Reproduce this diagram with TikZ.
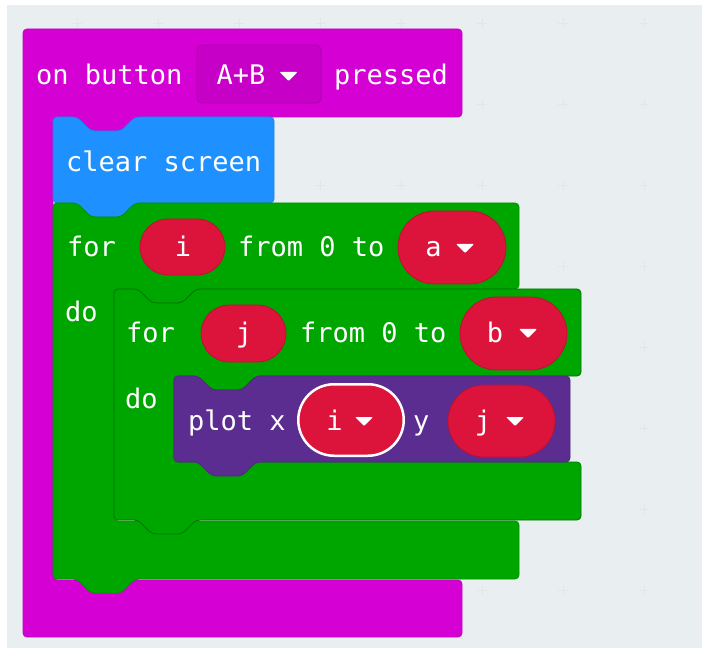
\documentclass[tikz,border=0pt]{standalone}
\usepackage{fontspec}
\setmonofont{DejaVu Sans Mono}
\usetikzlibrary{shapes.misc}

\definecolor{events}{HTML}{D400D4}
\definecolor{basic}{HTML}{1E90FF}
\definecolor{loops}{HTML}{00A600}
\definecolor{led}{HTML}{5C2D91}
\definecolor{vars}{HTML}{DC143C}
\definecolor{canvas}{HTML}{E9EEF0}

% little white arrow of a dropdown, #1 = centre x, #2 = text baseline
\newcommand\dropdown[2]{\fill[white,rounded corners=1pt] (#1-9,#2-13) -- (#1+9,#2-13) -- (#1,#2-4) -- cycle;}

\begin{document}
\begin{tikzpicture}[x=1pt,y=-1pt,
  blk/.style={rounded corners=4pt,line width=0.8pt},
  pill/.style={rounded rectangle,fill=vars,draw=vars!85!black,line width=0.8pt,inner sep=0pt},
  txt/.style={text=white,font=\fontsize{27}{30}\selectfont\ttfamily,inner sep=0pt,anchor=base west}]
  \useasboundingbox (0,0) rectangle (702,655);

  % Workspace
  \fill[white] (0,0) rectangle (702,655);
  \fill[canvas] (7,5) rectangle (702,648);
  \foreach \x in {77,158,...,644} \foreach \y in {23,104,...,592}
    \draw[black!10] (\x-5,\y) -- (\x+5,\y) (\x,\y-5) -- (\x,\y+5);

  % on button ... pressed
  \filldraw[blk,fill=events,draw=events!92!black] (23,29) -- (462,29) -- (462,117) -- (135,117) -- (121,131) -- (91,131) -- (77,117)
    -- (53,117) -- (53,580) -- (462,580) -- (462,637) -- (23,637) -- cycle;
  \node[draw=events!80!black,fill=events!94!black,rounded corners=5pt,line width=0.8pt,minimum width=124pt,minimum height=58pt] (btn) at (259,74) {};
  \node[txt] (on) at (36,85) {on button};
  \node[txt,anchor=base] (ab) at (241,85) {A+B};
  \dropdown{288.5}{85}
  \node[txt] (pressed) at (334,85) {pressed};

  % clear screen
  \filldraw[blk,fill=basic,draw=basic!92!black] (53,117) -- (77,117) -- (91,131) -- (121,131) -- (135,117) -- (274,117) -- (274,203)
    -- (135,203) -- (121,217) -- (91,217) -- (77,203) -- (53,203) -- cycle;
  \node[txt] (clr) at (66,172) {clear screen};

  % outer for loop
  \filldraw[blk,fill=loops,draw=loops!88!black] (53,203) -- (77,203) -- (91,217) -- (121,217) -- (135,203) -- (519,203) -- (519,289)
    -- (196,289) -- (182,303) -- (152,303) -- (138,289) -- (114,289) -- (114,521) -- (519,521) -- (519,579)
    -- (135,579) -- (121,593) -- (91,593) -- (77,579) -- (53,579) -- cycle;
  \node[pill,minimum width=85pt,minimum height=56pt] (vi) at (182.5,247) {};
  \node[pill,minimum width=108pt,minimum height=73pt] (va) at (452,247.5) {};
  \node[txt] (for1) at (67,257) {for};
  \node[txt,anchor=base] (i1) at (183,257) {i};
  \node[txt] (rng1) at (238,257) {from 0 to};
  \node[txt,anchor=base] (a1) at (433.5,257) {a};
  \dropdown{465}{257}
  \node[txt] (do1) at (65,322) {do};

  % inner for loop
  \filldraw[blk,fill=loops,draw=loops!70!black] (114,289) -- (138,289) -- (152,303) -- (182,303) -- (196,289) -- (581,289) -- (581,376)
    -- (256,376) -- (242,390) -- (212,390) -- (198,376) -- (174,376) -- (174,462) -- (581,462) -- (581,520)
    -- (196,520) -- (182,534) -- (152,534) -- (138,520) -- (114,520) -- cycle;
  \node[pill,minimum width=85pt,minimum height=57pt] (vj) at (243.5,333.5) {};
  \node[pill,minimum width=107pt,minimum height=73pt] (vb) at (513.5,333.5) {};
  \node[txt] (for2) at (126,342) {for};
  \node[txt,anchor=base] (j2) at (244,342) {j};
  \node[txt] (rng2) at (300,342) {from 0 to};
  \node[txt,anchor=base] (b2) at (495,342) {b};
  \dropdown{528}{342}
  \node[txt] (do2) at (125,408) {do};

  % plot x y
  \filldraw[blk,fill=led,draw=led!88!black] (174,376) -- (198,376) -- (212,390) -- (242,390) -- (256,376) -- (570,376) -- (570,462)
    -- (256,462) -- (242,476) -- (212,476) -- (198,462) -- (174,462) -- cycle;
  \node[pill,draw=white,line width=2.5pt,minimum width=105.5pt,minimum height=71.5pt] (px) at (351,420) {};
  \node[pill,minimum width=107pt,minimum height=72pt] (py) at (501.5,421) {};
  \node[txt] (plot) at (188,430) {plot x};
  \node[txt,anchor=base] (xi) at (334.5,430) {i};
  \dropdown{364}{430}
  \node[txt] (ylbl) at (413,430) {y};
  \node[txt,anchor=base] (yj) at (483,430) {j};
  \dropdown{515}{430}
\end{tikzpicture}
\end{document}
